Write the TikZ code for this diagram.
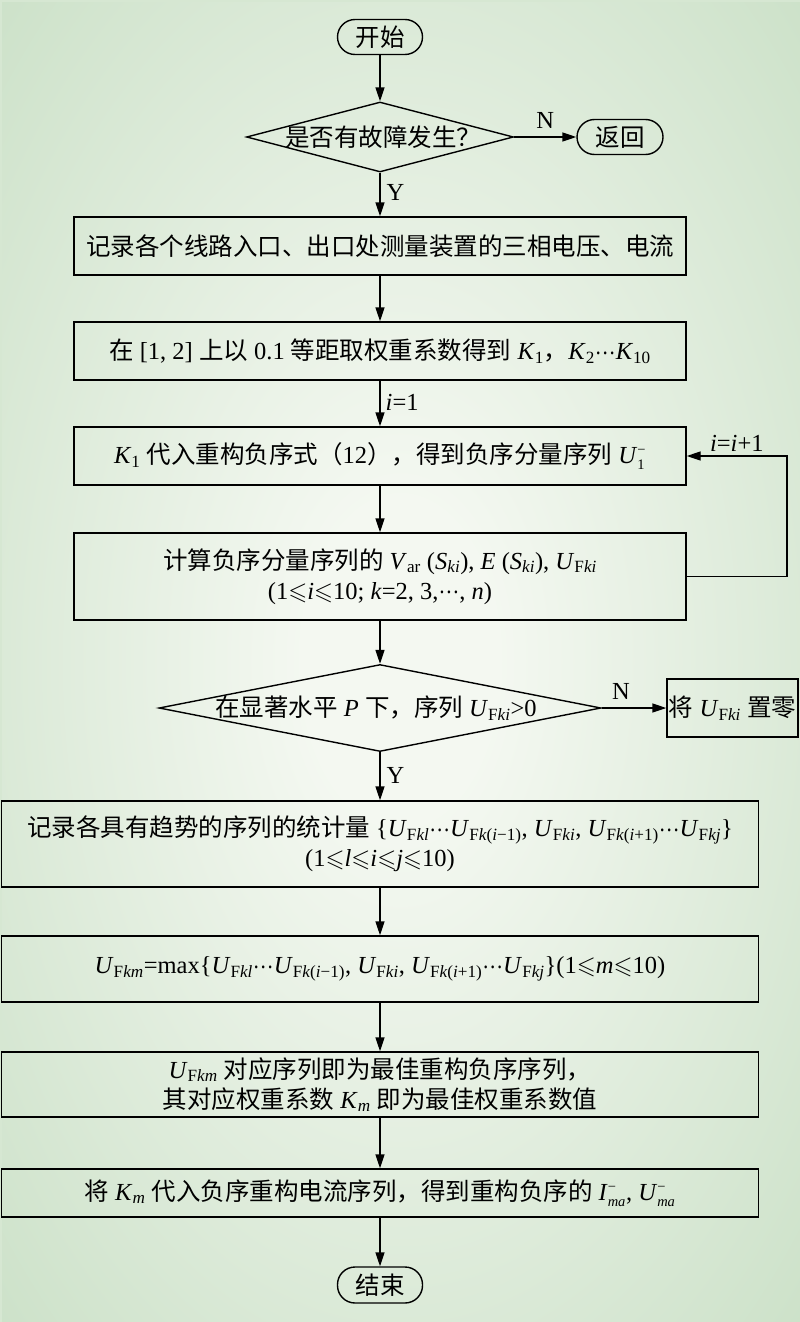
\documentclass[tikz,border=0pt]{standalone}
\usepackage{amssymb}
\usepackage{fontspec}
\setmainfont{Liberation Serif}
\newfontfamily\zh{Noto Sans CJK SC}
\usetikzlibrary{arrows.meta,shapes.geometric}
\newcommand\lsl{\ensuremath{\leqslant}}
\newcommand\Us[1]{\textit{U}\textsubscript{#1}}
\newcommand\smallsz{\fontsize{14.5}{14.5}\selectfont}
\newcommand\supsub[2]{\ensuremath{^{\mbox{\smallsz #1}}_{\mbox{\smallsz #2}}}}
\newcommand\cds{\raisebox{0.22em}{\scalebox{0.85}[1]{…}}}
\definecolor{bgin}{RGB}{244,248,241}
\definecolor{bgout}{RGB}{188,216,184}
\definecolor{bgedge}{RGB}{214,231,210}
\pgfdeclareradialshading{bgshade}{\pgfpoint{0bp}{0bp}}{color(0bp)=(bgin); color(6bp)=(bgin); color(48bp)=(bgout); color(75bp)=(bgout)}
\begin{document}
\begin{tikzpicture}[x=1pt,y=-1pt,
  font=\fontsize{24.5}{30}\selectfont,
  box/.style={draw,line width=1.4pt,inner sep=0pt,align=center},
  term/.style={draw,line width=1.4pt,rounded corners=17.5pt,inner sep=0pt},
  dia/.style={draw,diamond,line width=1.4pt,inner sep=0pt},
  arr/.style={line width=1.4pt,-{Triangle[length=14pt,width=9pt]}},
  lab/.style={inner sep=0pt}]
\useasboundingbox (0,0) rectangle (800,1322);
\shade[shading=bgshade] (0,0) rectangle (800,1322);
\fill[bgedge] (0,0) rectangle (800,2);
\fill[bgedge] (0,0) rectangle (2,1322);

\node[term,minimum width=85pt,minimum height=35pt] (start) at (380,37) {\zh 开始};
\node[dia,minimum width=267pt,minimum height=70pt] (d1) at (380,137) {};
\node[lab] (d1t) at (383,137) {\zh 是否有故障发生？};
\node[term,minimum width=86pt,minimum height=35pt] (ret) at (620,137) {\zh 返回};

\node[box,minimum width=612pt,minimum height=58pt] (b1) at (380,246)
  {\zh 记录各个线路入口、出口处测量装置的三相电压、电流};
\node[box,minimum width=612pt,minimum height=58pt] (b2) at (380,351)
  {{\zh 在} [1, 2] {\zh 上以} 0.1 {\zh 等距取权重系数得到} \textit{K}\textsubscript{1}{\zh ，}\textit{K}\textsubscript{2}\cds\textit{K}\textsubscript{10}};
\node[box,minimum width=612pt,minimum height=58pt] (b3) at (380,456)
  {\textit{K}\textsubscript{1} {\zh 代入重构负序式（}12{\zh ），得到负序分量序列} \textit{U}\supsub{−}{1}};
\node[box,minimum width=612pt,minimum height=87pt] (b4) at (380,576.5)
  {{\zh 计算负序分量序列的} \textit{V}\textsubscript{ar} (\textit{S}\textsubscript{\textit{ki}}), \textit{E} (\textit{S}\textsubscript{\textit{ki}}), \Us{F\textit{ki}}\\
   (1\lsl\textit{i}\lsl10; \textit{k}=2, 3,\cds, \textit{n})};

\node[dia,minimum width=442pt,minimum height=87pt] (d2) at (380,708) {};
\node[lab] (d2t) at (376,708) {{\zh 在显著水平} \textit{P} {\zh 下，序列} \Us{F\textit{ki}}>0};
\node[box,minimum width=131pt,minimum height=58pt] (zero) at (732.5,708) {{\zh 将} \Us{F\textit{ki}} {\zh 置零}};

\node[box,minimum width=757pt,minimum height=86pt] (b5) at (380,844)
  {{\zh 记录各具有趋势的序列的统计量} \{\Us{F\textit{kl}}\cds\Us{F\textit{k}(\textit{i}−1)}, \Us{F\textit{ki}}, \Us{F\textit{k}(\textit{i}+1)}\cds\Us{F\textit{kj}}\}\\
   (1\lsl\textit{l}\lsl\textit{i}\lsl\textit{j}\lsl10)};
\node[box,minimum width=757pt,minimum height=66pt] (b6) at (380,969)
  {\Us{F\textit{km}}=max\{\Us{F\textit{kl}}\cds\Us{F\textit{k}(\textit{i}−1)}, \Us{F\textit{ki}}, \Us{F\textit{k}(\textit{i}+1)}\cds\Us{F\textit{kj}}\}(1\lsl\textit{m}\lsl10)};
\node[box,minimum width=757pt,minimum height=65pt] (b7) at (380,1084.5)
  {\Us{F\textit{km}} {\zh 对应序列即为最佳重构负序序列，}\\
   {\zh 其对应权重系数} \textit{K}\textsubscript{\textit{m}} {\zh 即为最佳权重系数值}};
\node[box,minimum width=757pt,minimum height=48pt] (b8) at (380,1193)
  {{\zh 将} \textit{K}\textsubscript{\textit{m}} {\zh 代入负序重构电流序列，得到重构负序的} \textit{I}\supsub{−}{\textit{ma}}, \textit{U}\supsub{−}{\textit{ma}}};
\node[term,minimum width=85pt,minimum height=36pt] (end) at (380,1285) {\zh 结束};

\coordinate (lp) at (787,500);

\draw[arr] (start) -- (d1);
\draw[arr] (d1.east) -- (ret.west) node[lab,pos=0.5,above=8pt] {N};
\draw[arr] (d1.south) -- (b1.north) node[lab,pos=0.45,right=6pt] {Y};
\draw[arr] (b1) -- (b2);
\draw[arr] (b2) -- (b3) node[lab,pos=0.47,right=5pt] {\textit{i}=1};
\draw[arr] (b3) -- (b4);
\draw[arr] (b4.east) -| (lp) |- (b3.east) node[lab,pos=0.75,above=4pt] {\textit{i}=\textit{i}+1};
\draw[arr] (b4) -- (d2);
\draw[arr] (d2.east) -- (zero.west) node[lab,pos=0.3,above=8pt] {N};
\draw[arr] (d2.south) -- (b5.north) node[lab,pos=0.48,right=6pt] {Y};
\draw[arr] (b5) -- (b6);
\draw[arr] (b6) -- (b7);
\draw[arr] (b7) -- (b8);
\draw[arr] (b8) -- (end);
\end{tikzpicture}
\end{document}
